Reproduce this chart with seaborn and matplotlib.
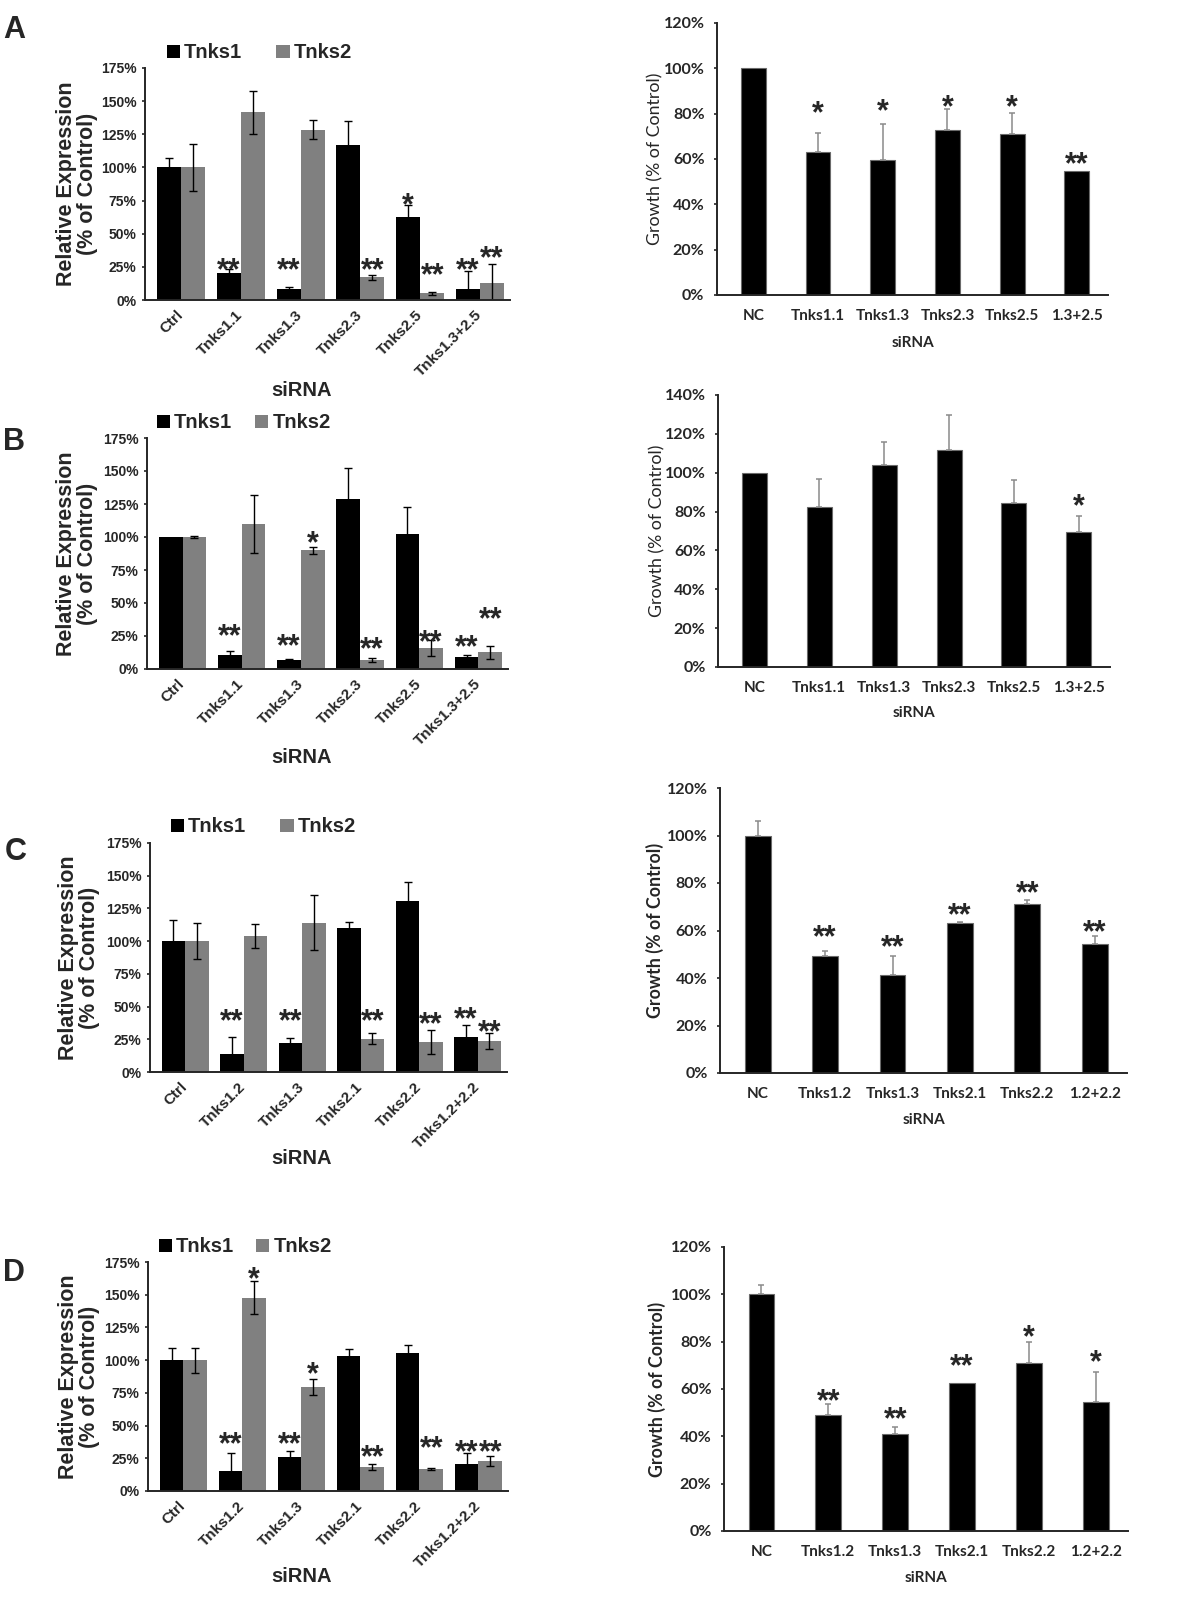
import numpy as np
import pandas as pd
import matplotlib
matplotlib.use("Agg")
import matplotlib.pyplot as plt
import seaborn as sns

# ---------------- data : relative expression (left column) ----------------
A_expr_sirna = ["Ctrl", "Tnks1.1", "Tnks1.3", "Tnks2.3", "Tnks2.5", "Tnks1.3+2.5"]
A_tnks1 = [100, 20, 8.5, 117, 62.5, 8]
A_tnks1_err = [7, 3.5, 1, 18, 9.5, 13.5]
A_tnks2 = [100, 141.5, 128.5, 17, 5, 13]
A_tnks2_err = [18, 16.5, 7, 2, 1, 14.5]
A_tnks1_sig = ["", "**", "**", "", "*", "**"]
A_tnks1_sig_y = [0, 29, 29, 0, 78, 29]
A_tnks2_sig = ["", "", "", "**", "**", "**"]
A_tnks2_sig_y = [0, 0, 0, 29, 25, 38]

B_expr_sirna = ["Ctrl", "Tnks1.1", "Tnks1.3", "Tnks2.3", "Tnks2.5", "Tnks1.3+2.5"]
B_tnks1 = [100, 10.6, 7, 129, 102, 9.3]
B_tnks1_err = [0, 3, 0.7, 23, 21, 1.2]
B_tnks2 = [100, 110, 90, 6.6, 15.7, 12.6]
B_tnks2_err = [0.5, 22, 2.5, 1.5, 6, 5]
B_tnks1_sig = ["", "**", "**", "", "", "**"]
B_tnks1_sig_y = [0, 31, 23.5, 0, 0, 22.7]
B_tnks2_sig = ["", "", "*", "**", "**", "**"]
B_tnks2_sig_y = [0, 0, 102, 21, 27, 43.7]

C_expr_sirna = ["Ctrl", "Tnks1.2", "Tnks1.3", "Tnks2.1", "Tnks2.2", "Tnks1.2+2.2"]
C_tnks1 = [100, 13.5, 22, 110, 130.5, 26.6]
C_tnks1_err = [16, 13, 4, 5, 14.5, 9.5]
C_tnks2 = [100, 104, 114, 25.5, 23, 23.8]
C_tnks2_err = [14, 9, 21, 4, 9, 6]
C_tnks1_sig = ["", "**", "**", "", "", "**"]
C_tnks1_sig_y = [0, 45.5, 45.5, 0, 0, 47]
C_tnks2_sig = ["", "", "", "**", "**", "**"]
C_tnks2_sig_y = [0, 0, 0, 45.5, 42.7, 37]

D_expr_sirna = ["Ctrl", "Tnks1.2", "Tnks1.3", "Tnks2.1", "Tnks2.2", "Tnks1.2+2.2"]
D_tnks1 = [100, 15.3, 25.7, 103.4, 105.7, 20.9]
D_tnks1_err = [9, 14, 5, 5, 6, 8.5]
D_tnks2 = [100, 147.7, 79.5, 18.3, 16.8, 22.9]
D_tnks2_err = [9.5, 12.5, 6, 2, 1, 3.5]
D_tnks1_sig = ["", "**", "**", "", "", "**"]
D_tnks1_sig_y = [0, 42.5, 42.5, 0, 0, 36]
D_tnks2_sig = ["", "*", "*", "**", "**", "**"]
D_tnks2_sig_y = [0, 168, 96, 32, 39, 36]

expr_genes = ["Tnks1", "Tnks2"]
expr_ticks = [0, 25, 50, 75, 100, 125, 150, 175]

# ---------------- data : growth (right column) ----------------
A_growth_sirna = ["NC", "Tnks1.1", "Tnks1.3", "Tnks2.3", "Tnks2.5", "1.3+2.5"]
A_growth = [100, 63, 59.5, 73, 71.2, 54.8]
A_growth_err = [0, 8.5, 16, 9, 9, 0]
A_growth_sig = ["", "*", "*", "*", "*", "**"]
A_growth_sig_y = [0, 84, 85, 86.6, 86.6, 61.4]
A_growth_ticks = [0, 20, 40, 60, 80, 100, 120]

B_growth_sirna = ["NC", "Tnks1.1", "Tnks1.3", "Tnks2.3", "Tnks2.5", "1.3+2.5"]
B_growth = [100, 82.5, 104, 111.7, 84.5, 69.6]
B_growth_err = [0, 14.5, 12, 18, 11.7, 8]
B_growth_sig = ["", "", "", "", "", "*"]
B_growth_sig_y = [0, 0, 0, 0, 0, 87.3]
B_growth_ticks = [0, 20, 40, 60, 80, 100, 120, 140]

C_growth_sirna = ["NC", "Tnks1.2", "Tnks1.3", "Tnks2.1", "Tnks2.2", "1.2+2.2"]
C_growth = [100, 49.2, 41.2, 63, 71, 54.4]
C_growth_err = [6, 2, 8, 0.7, 2, 3.4]
C_growth_sig = ["", "**", "**", "**", "**", "**"]
C_growth_sig_y = [0, 60.9, 56.7, 70, 79.2, 62.7]
C_growth_ticks = [0, 20, 40, 60, 80, 100, 120]

D_growth_sirna = ["NC", "Tnks1.2", "Tnks1.3", "Tnks2.1", "Tnks2.2", "1.2+2.2"]
D_growth = [100, 49, 41, 62.6, 70.8, 54.3]
D_growth_err = [4, 4.6, 3, 0, 8.9, 13]
D_growth_sig = ["", "**", "**", "**", "*", "*"]
D_growth_sig_y = [0, 58.4, 50.6, 73.3, 85.5, 75]
D_growth_ticks = [0, 20, 40, 60, 80, 100, 120]

panel_letters = ["A", "B", "C", "D"]

# ---------------- style ----------------
sns.set_style("ticks")
plt.rcParams["font.family"] = ["Liberation Sans", "DejaVu Sans"]
plt.rcParams["axes.linewidth"] = 1.4

W, H = 1200, 1607
fig = plt.figure(figsize=(W / 100, H / 100), dpi=100)

ARIAL = ["Liberation Sans", "DejaVu Sans"]
CALIBRI = ["Lato", "DejaVu Sans"]
STAR_FS = 22


def px_axes(x0, y0, x1, y1):
    return fig.add_axes([x0 / W, 1 - y1 / H, (x1 - x0) / W, (y1 - y0) / H])


def add_stars(ax, xs, sigs, sig_y):
    for x, s, y in zip(xs, sigs, sig_y):
        if s:
            ax.annotate(s, (x, y), xytext=(0, -0.57 * STAR_FS), textcoords="offset points",
                        ha="center", va="baseline", fontsize=STAR_FS, fontweight="bold",
                        family=ARIAL, annotation_clip=False)


def expr_panel(box, sirna, t1, t1e, t2, t2e, s1, s1y, s2, s2y,
               legend_xy, colspace, ylab_x, xlab_y):
    ax = px_axes(*box)
    df = pd.DataFrame({"siRNA": sirna * 2, "value": t1 + t2,
                       "gene": [expr_genes[0]] * len(sirna) + [expr_genes[1]] * len(sirna)})
    sns.barplot(data=df, x="siRNA", y="value", hue="gene", hue_order=expr_genes,
                palette={"Tnks1": "#000000", "Tnks2": "#808080"}, errorbar=None,
                width=0.8, saturation=1, linewidth=0, ax=ax)
    for cont, errs, sigs, sy in zip(ax.containers, [t1e, t2e], [s1, s2], [s1y, s2y]):
        xs = [p.get_x() + p.get_width() / 2 for p in cont]
        hs = [p.get_height() for p in cont]
        sel = [i for i, e in enumerate(errs) if e > 0]
        ax.errorbar([xs[i] for i in sel], [hs[i] for i in sel], yerr=[errs[i] for i in sel],
                    fmt="none", ecolor="black", elinewidth=1.0, capsize=3, capthick=1.0)
        add_stars(ax, xs, sigs, sy)
    handles, labels = ax.get_legend_handles_labels()
    if ax.get_legend() is not None:
        ax.get_legend().remove()
    fig.legend(handles, labels, loc="center left",
               bbox_to_anchor=(legend_xy[0] / W, 1 - legend_xy[1] / H),
               ncol=2, frameon=False, borderpad=0, borderaxespad=0,
               handlelength=0.65, handleheight=0.65, handletextpad=0.2,
               columnspacing=colspace, prop={"family": ARIAL, "weight": "bold", "size": 14.5})
    ax.set_xlim(-0.6, 5.5)
    ax.set_ylim(0, 175)
    ax.set_yticks(expr_ticks)
    ax.set_yticklabels([f"{t}%" for t in expr_ticks], fontsize=10, fontweight="bold", family=ARIAL)
    ax.set_xticks(range(len(sirna)))
    ax.set_xticklabels(sirna, fontsize=11, fontweight="bold", family=ARIAL,
                       rotation=45, ha="right", va="center", rotation_mode="anchor")
    ax.tick_params(axis="y", length=2.5, width=1.2, pad=3.6, direction="out")
    ax.tick_params(axis="x", length=0, pad=9)
    sns.despine(ax=ax)
    ax.set_ylabel("Relative Expression\n(% of Control)", fontsize=15.5, fontweight="bold",
                  family=ARIAL, va="center", linespacing=1.0)
    ax.yaxis.set_label_coords((ylab_x - box[0]) / (box[2] - box[0]), 0.5)
    ax.set_xlabel("")
    fig.text(302 / W, 1 - xlab_y / H, "siRNA", ha="center", va="center",
             fontsize=14.5, fontweight="bold", family=ARIAL)
    return ax


def growth_panel(box, sirna, vals, errs, sigs, sig_y, ticks, ylab_x, xlab_y, ylab_bold):
    ax = px_axes(*box)
    df = pd.DataFrame({"siRNA": sirna, "growth": vals})
    sns.barplot(data=df, x="siRNA", y="growth", color="#000000", width=0.385,
                errorbar=None, saturation=1, edgecolor="#6a6a6a", linewidth=0.8, ax=ax)
    cont = ax.containers[0]
    xs = [p.get_x() + p.get_width() / 2 for p in cont]
    hs = [p.get_height() for p in cont]
    sel = [i for i, e in enumerate(errs) if e > 0]
    ax.errorbar([xs[i] for i in sel], [hs[i] for i in sel],
                yerr=[[0] * len(sel), [errs[i] for i in sel]],
                fmt="none", ecolor="#8a8a8a", elinewidth=1.1, capsize=2.5, capthick=1.1)
    add_stars(ax, xs, sigs, sig_y)
    ax.set_xlim(-0.56, 5.48)
    ax.set_ylim(0, ticks[-1])
    ax.set_yticks(ticks)
    ax.set_yticklabels([f"{t}%" for t in ticks], fontsize=11.5, fontweight="bold", family=CALIBRI)
    ax.set_xticks(range(len(sirna)))
    ax.set_xticklabels(sirna, fontsize=11, fontweight="bold", family=CALIBRI)
    ax.tick_params(axis="y", length=2.5, width=1.2, pad=6.5, direction="out")
    ax.tick_params(axis="x", length=0, pad=10)
    sns.despine(ax=ax)
    ax.set_ylabel("Growth (% of Control)", fontsize=12.8,
                  fontweight="bold" if ylab_bold else "normal", family=CALIBRI, va="center")
    ax.yaxis.set_label_coords((ylab_x - box[0]) / (box[2] - box[0]), 0.5)
    ax.set_xlabel("siRNA", fontsize=11, fontweight="bold", family=CALIBRI, va="center")
    ax.xaxis.set_label_coords(0.5, -(xlab_y - box[3]) / (box[3] - box[1]))
    return ax


# ---------------- panels ----------------
expr_panel((145, 68, 510, 300), A_expr_sirna, A_tnks1, A_tnks1_err, A_tnks2, A_tnks2_err,
           A_tnks1_sig, A_tnks1_sig_y, A_tnks2_sig, A_tnks2_sig_y,
           legend_xy=(167, 53), colspace=1.7, ylab_x=77, xlab_y=390)
expr_panel((147, 438, 508, 669), B_expr_sirna, B_tnks1, B_tnks1_err, B_tnks2, B_tnks2_err,
           B_tnks1_sig, B_tnks1_sig_y, B_tnks2_sig, B_tnks2_sig_y,
           legend_xy=(157, 423), colspace=1.15, ylab_x=77, xlab_y=757)
expr_panel((150, 843, 507, 1072), C_expr_sirna, C_tnks1, C_tnks1_err, C_tnks2, C_tnks2_err,
           C_tnks1_sig, C_tnks1_sig_y, C_tnks2_sig, C_tnks2_sig_y,
           legend_xy=(171, 827), colspace=1.7, ylab_x=79, xlab_y=1158)
expr_panel((148, 1262, 508, 1491), D_expr_sirna, D_tnks1, D_tnks1_err, D_tnks2, D_tnks2_err,
           D_tnks1_sig, D_tnks1_sig_y, D_tnks2_sig, D_tnks2_sig_y,
           legend_xy=(159, 1247), colspace=1.1, ylab_x=79, xlab_y=1577)

growth_panel((717, 23, 1108, 295), A_growth_sirna, A_growth, A_growth_err, A_growth_sig,
             A_growth_sig_y, A_growth_ticks, ylab_x=655, xlab_y=343, ylab_bold=False)
growth_panel((718, 395, 1110, 667), B_growth_sirna, B_growth, B_growth_err, B_growth_sig,
             B_growth_sig_y, B_growth_ticks, ylab_x=657, xlab_y=713, ylab_bold=False)
growth_panel((720, 788, 1127, 1073), C_growth_sirna, C_growth, C_growth_err, C_growth_sig,
             C_growth_sig_y, C_growth_ticks, ylab_x=655, xlab_y=1120, ylab_bold=True)
growth_panel((724, 1247, 1128, 1531), D_growth_sirna, D_growth, D_growth_err, D_growth_sig,
             D_growth_sig_y, D_growth_ticks, ylab_x=657, xlab_y=1578, ylab_bold=True)

for letter, (lx, ly) in zip(panel_letters, [(3, 15), (3, 427), (5, 837), (3, 1258)]):
    fig.text(lx / W, 1 - ly / H, letter, ha="left", va="top", fontsize=22,
             fontweight="bold", family=ARIAL)

fig.savefig("out.png", dpi=100, facecolor="white")
